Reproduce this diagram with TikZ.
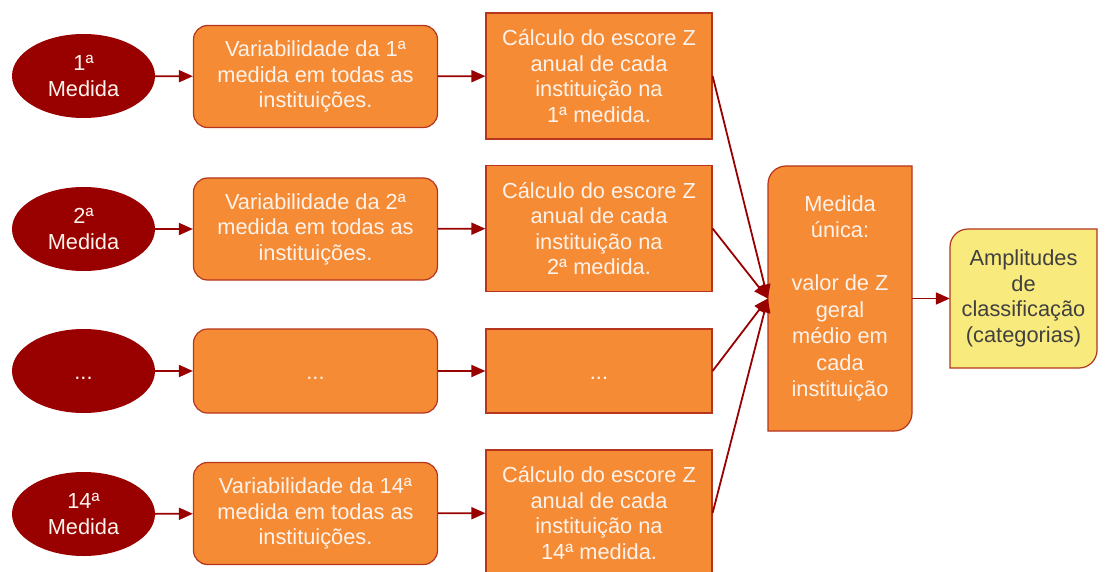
\documentclass[tikz,border=0pt]{standalone}
\usepackage{fontspec}
\setmainfont{Liberation Sans}
\usetikzlibrary{arrows.meta,shapes.geometric}
\definecolor{ellred}{HTML}{990000}
\definecolor{boxorange}{HTML}{F58B34}
\definecolor{boxborder}{HTML}{B5351F}
\definecolor{linered}{HTML}{990000}
\definecolor{boxyellow}{HTML}{F8EA7C}
\definecolor{txtgray}{HTML}{404040}
\definecolor{txtwhite}{HTML}{FDF3EC}
\begin{document}
\begin{tikzpicture}[x=1pt,y=-1pt,
  every node/.style={font=\fontsize{21.8}{25.5}\selectfont, align=center, inner sep=0pt},
  medell/.style={ellipse, fill=ellred, text=txtwhite, minimum width=143pt, minimum height=84pt},
  varbox/.style={rectangle, rounded corners=14pt, draw=boxborder, line width=1.2pt, fill=boxorange, text=txtwhite, minimum width=244pt, minimum height=102pt},
  calcbox/.style={rectangle, draw=boxborder, line width=1.2pt, fill=boxorange, text=txtwhite, minimum width=226pt, minimum height=126pt},
  dotstext/.style={text height=16pt, text depth=0pt},
  shapeline/.style={draw=boxborder, line width=1.2pt},
  link/.style={draw=linered, line width=1.8pt, -{Triangle[length=14pt,width=12pt]}},
]
\useasboundingbox (0,0) rectangle (1110,572);

% column 1: ellipses
\node[medell] (e1) at (83.5,76) {1ª\\Medida};
\node[medell] (e2) at (83.5,229) {2ª\\Medida};
\node[medell, dotstext] (e3) at (83.5,371) {...};
\node[medell] (e4) at (83.5,514) {14ª\\Medida};

% column 2
\node[varbox] (v1) at (315.5,76.5) {Variabilidade da 1ª\\medida em todas as\\instituições.};
\node[varbox] (v2) at (315.5,229) {Variabilidade da 2ª\\medida em todas as\\instituições.};
\node[varbox, dotstext, minimum height=84pt] (v3) at (315.5,371) {...};
\node[varbox] (v4) at (315.5,513.5) {Variabilidade da 14ª\\medida em todas as\\instituições.};

% column 3
\node[calcbox] (c1) at (599,76) {Cálculo do escore Z\\anual de cada\\instituição na\\1ª medida.};
\node[calcbox] (c2) at (599,228.5) {Cálculo do escore Z\\anual de cada\\instituição na\\2ª medida.};
\node[calcbox, dotstext, minimum height=84pt] (c3) at (599,371) {...};
\node[calcbox] (c4) at (599,513) {Cálculo do escore Z\\anual de cada\\instituição na\\14ª medida.};

% single measure box
\path[shapeline, fill=boxorange] (768,431) -- (768,184) arc[start angle=180,end angle=270,radius=18] -- (912,166) -- (912,413) arc[start angle=0,end angle=90,radius=18] -- cycle;
\node[text=txtwhite, minimum width=144pt, minimum height=265pt, font=\fontsize{21.8}{26.5}\selectfont] (med) at (840,298.5) {Medida\\única:\\[26.5pt]valor de Z\\geral\\médio em\\cada\\instituição};

% amplitude box
\path[shapeline, fill=boxyellow] (950,368) -- (950,247) arc[start angle=180,end angle=270,radius=18] -- (1097,229) -- (1097,350) arc[start angle=0,end angle=90,radius=18] -- cycle;
\node[text=txtgray, minimum width=147pt, minimum height=139pt] (amp) at (1023.5,298.5) {Amplitudes\\de\\classificação\\(categorias)};

% connectors
\foreach \i in {1,2,3,4} {
  \draw[link] (e\i) -- (v\i);
  \draw[link] (v\i) -- (c\i);
  \draw[link] (c\i.east) -- (med.west);
}
\draw[link] (med) -- (amp);
\end{tikzpicture}
\end{document}
